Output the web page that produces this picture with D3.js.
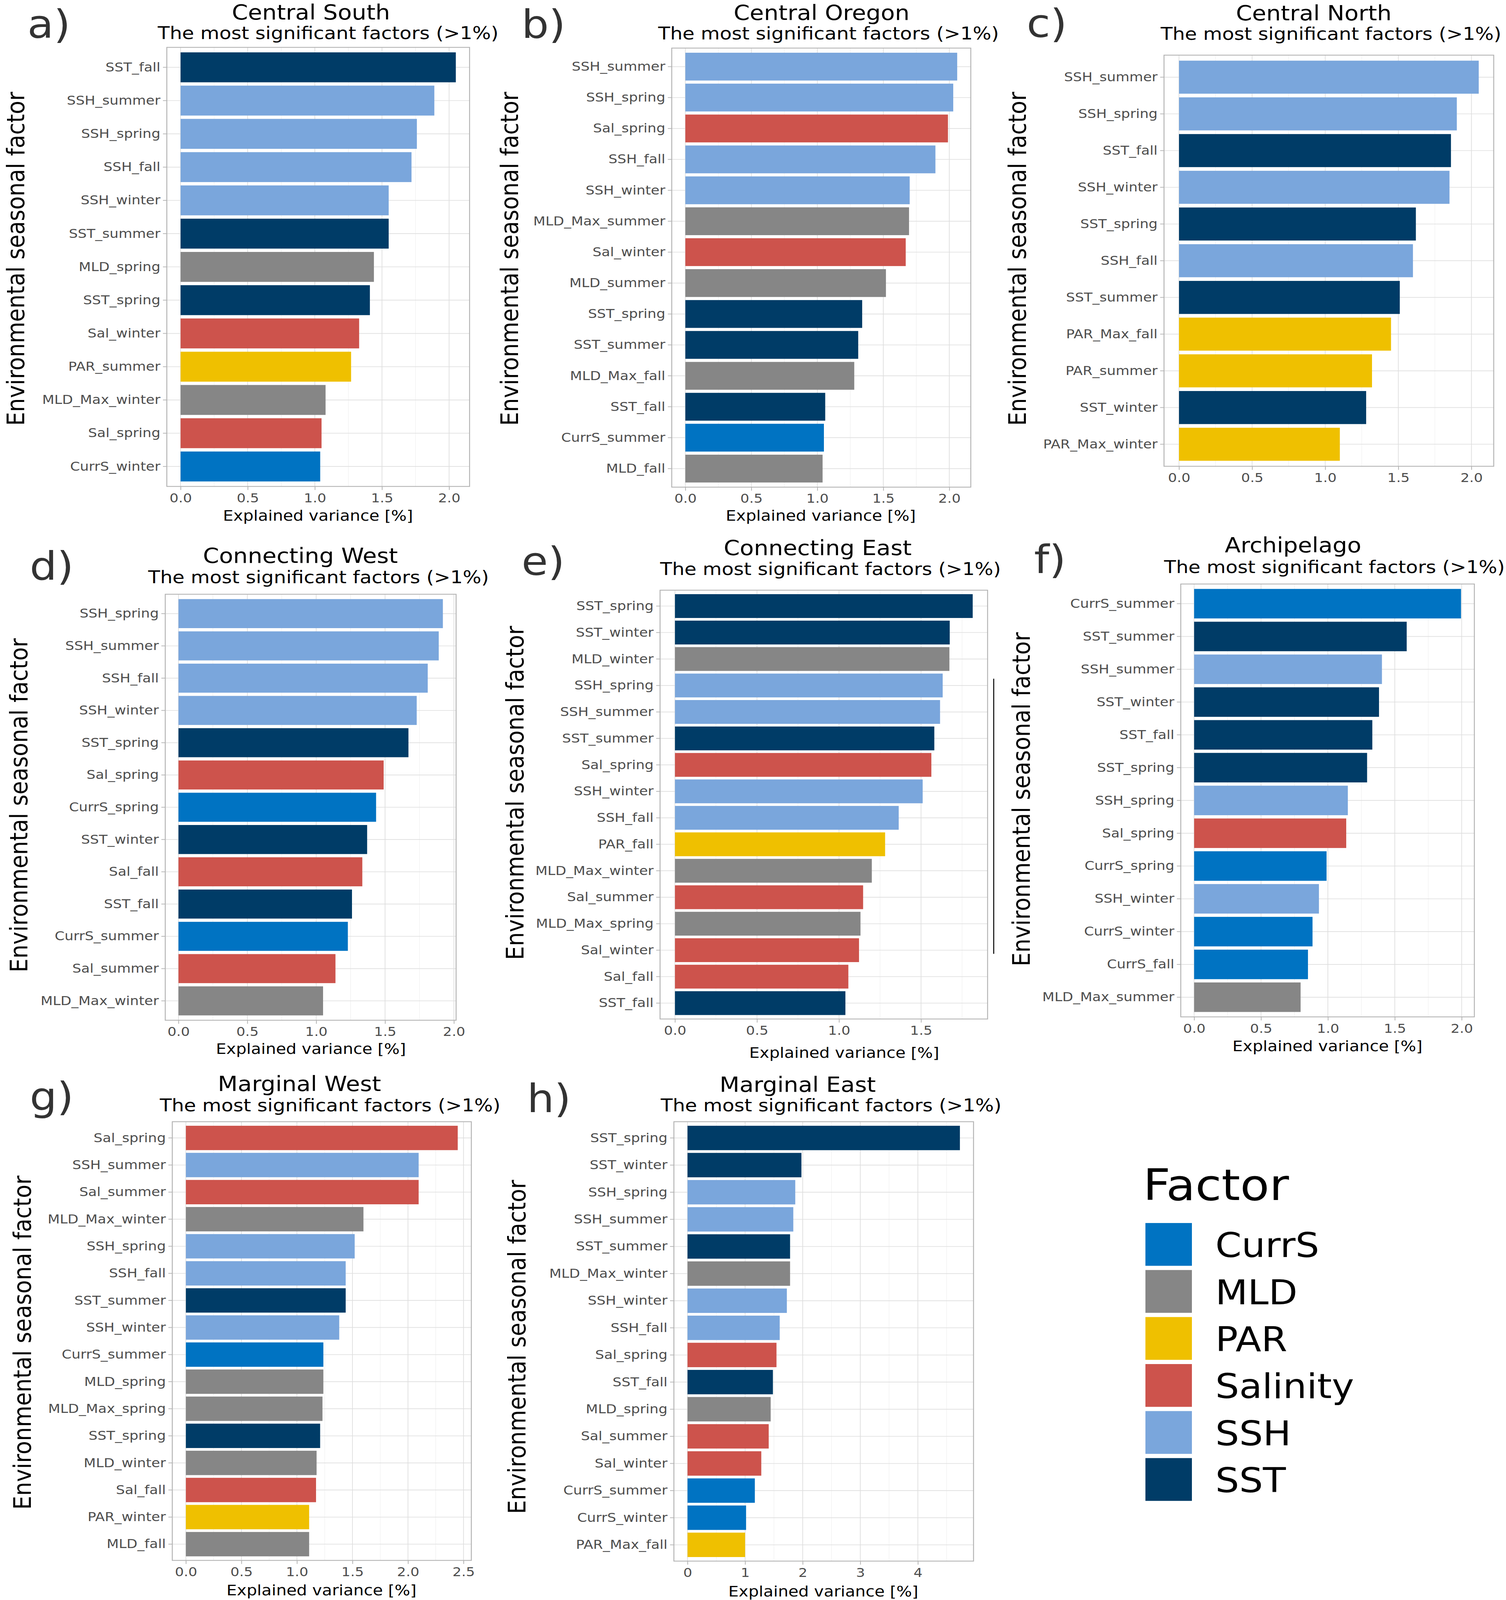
<!DOCTYPE html>
<html><head><meta charset="utf-8">
<script src="https://d3js.org/d3.v7.min.js"></script>
<style>
html, body { margin: 0; padding: 0; background: white; overflow: hidden; }
#chart { display: block; width: 100vw; height: 100vh; }
svg text { font-family: 'DejaVu Sans', sans-serif; }
</style>
</head>
<body>
<svg id="chart" viewBox="0 0 3855 4526" preserveAspectRatio="none"></svg>
<script>
// factor groups, jco palette
const factorGroups = ["CurrS", "MLD", "PAR", "Salinity", "SSH", "SST"];
const factorColors = ["#0073C2", "#868686", "#EFC000", "#CD534C", "#7AA6DC", "#003C67"];

const centralSouthLabels = ["SST_fall", "SSH_summer", "SSH_spring", "SSH_fall", "SSH_winter", "SST_summer", "MLD_spring", "SST_spring", "Sal_winter", "PAR_summer", "MLD_Max_winter", "Sal_spring", "CurrS_winter"];
const centralSouthValues = [2.05, 1.89, 1.76, 1.72, 1.55, 1.55, 1.44, 1.41, 1.33, 1.27, 1.08, 1.05, 1.04];

const centralOregonLabels = ["SSH_summer", "SSH_spring", "Sal_spring", "SSH_fall", "SSH_winter", "MLD_Max_summer", "Sal_winter", "MLD_summer", "SST_spring", "SST_summer", "MLD_Max_fall", "SST_fall", "CurrS_summer", "MLD_fall"];
const centralOregonValues = [2.06, 2.03, 1.99, 1.895, 1.70, 1.695, 1.67, 1.52, 1.34, 1.31, 1.28, 1.06, 1.05, 1.04];

const centralNorthLabels = ["SSH_summer", "SSH_spring", "SST_fall", "SSH_winter", "SST_spring", "SSH_fall", "SST_summer", "PAR_Max_fall", "PAR_summer", "SST_winter", "PAR_Max_winter"];
const centralNorthValues = [2.05, 1.90, 1.86, 1.85, 1.62, 1.60, 1.51, 1.45, 1.32, 1.28, 1.10];

const connWestLabels = ["SSH_spring", "SSH_summer", "SSH_fall", "SSH_winter", "SST_spring", "Sal_spring", "CurrS_spring", "SST_winter", "Sal_fall", "SST_fall", "CurrS_summer", "Sal_summer", "MLD_Max_winter"];
const connWestValues = [1.92, 1.89, 1.81, 1.73, 1.67, 1.49, 1.435, 1.37, 1.335, 1.26, 1.23, 1.14, 1.05];

const connEastLabels = ["SST_spring", "SST_winter", "MLD_winter", "SSH_spring", "SSH_summer", "SST_summer", "Sal_spring", "SSH_winter", "SSH_fall", "PAR_fall", "MLD_Max_winter", "Sal_summer", "MLD_Max_spring", "Sal_winter", "Sal_fall", "SST_fall"];
const connEastValues = [1.815, 1.675, 1.673, 1.632, 1.616, 1.581, 1.563, 1.51, 1.364, 1.281, 1.20, 1.147, 1.131, 1.122, 1.057, 1.039];

const archipelagoLabels = ["CurrS_summer", "SST_summer", "SSH_summer", "SST_winter", "SST_fall", "SST_spring", "SSH_spring", "Sal_spring", "CurrS_spring", "SSH_winter", "CurrS_winter", "CurrS_fall", "MLD_Max_summer"];
const archipelagoValues = [1.995, 1.589, 1.404, 1.382, 1.332, 1.293, 1.149, 1.137, 0.990, 0.933, 0.885, 0.851, 0.796];

const margWestLabels = ["Sal_spring", "SSH_summer", "Sal_summer", "MLD_Max_winter", "SSH_spring", "SSH_fall", "SST_summer", "SSH_winter", "CurrS_summer", "MLD_spring", "MLD_Max_spring", "SST_spring", "MLD_winter", "Sal_fall", "PAR_winter", "MLD_fall"];
const margWestValues = [2.448, 2.096, 2.096, 1.599, 1.520, 1.439, 1.439, 1.381, 1.238, 1.238, 1.230, 1.209, 1.177, 1.172, 1.110, 1.110];

const margEastLabels = ["SST_spring", "SST_winter", "SSH_spring", "SSH_summer", "SST_summer", "MLD_Max_winter", "SSH_winter", "SSH_fall", "Sal_spring", "SST_fall", "MLD_spring", "Sal_summer", "Sal_winter", "CurrS_summer", "CurrS_winter", "PAR_Max_fall"];
const margEastValues = [4.73, 1.978, 1.871, 1.837, 1.781, 1.781, 1.725, 1.601, 1.545, 1.483, 1.444, 1.410, 1.281, 1.169, 1.017, 1.000];

const ticksTwo = [0, 0.5, 1, 1.5, 2];
const ticksOneHalf = [0, 0.5, 1, 1.5];
const ticksTwoHalf = [0, 0.5, 1, 1.5, 2, 2.5];
const ticksFour = [0, 1, 2, 3, 4];

const subtitle = "The most significant factors (>1%)";

// layout of each panel (pixel positions)
const panels = [
  {tag: "a)", title: "Central South", labels: centralSouthLabels, values: centralSouthValues, ticks: ticksTwo, fmt: ".1f",
   box: [427, 134, 1202, 1376], tagPos: [70, 107], titlePos: [796, 55], subPos: [840, 111], yTitle: [62, 732], xTitle: [814, 1473]},
  {tag: "b)", title: "Central Oregon", labels: centralOregonLabels, values: centralOregonValues, ticks: ticksTwo, fmt: ".1f",
   box: [1719.5, 136, 2485, 1378], tagPos: [1335, 107], titlePos: [2103, 56], subPos: [2121, 112], yTitle: [1326, 732], xTitle: [2101, 1473]},
  {tag: "c)", title: "Central North", labels: centralNorthLabels, values: centralNorthValues, ticks: ticksTwo, fmt: ".1f",
   box: [2979.6, 156, 3823.6, 1319], tagPos: [2628, 105], titlePos: [3363, 57], subPos: [3407, 113], yTitle: [2626, 732], xTitle: null},
  {tag: "d)", title: "Connecting West", labels: connWestLabels, values: connWestValues, ticks: ticksTwo, fmt: ".1f",
   box: [423, 1681, 1167.5, 2886], tagPos: [76, 1640], titlePos: [769, 1592], subPos: [815.5, 1650], yTitle: [70, 2278], xTitle: [796, 2981]},
  {tag: "e)", title: "Connecting East", labels: connEastLabels, values: connEastValues, ticks: ticksOneHalf, fmt: ".1f",
   box: [1689.6, 1669.5, 2528, 2882.5], tagPos: [1335, 1627], titlePos: [2093, 1570], subPos: [2126, 1626], yTitle: [1340, 2243], xTitle: [2161, 2992],
   sideLine: [2543.7, 1920, 2698]},
  {tag: "f)", title: "Archipelago", labels: archipelagoLabels, values: archipelagoValues, ticks: ticksTwo, fmt: ".1f",
   box: [3022.5, 1652, 3774, 2876.5], tagPos: [2647, 1621], titlePos: [3310, 1563], subPos: [3416, 1621], yTitle: [2636, 2261], xTitle: [3398, 2973]},
  {tag: "g)", title: "Marginal West", labels: margWestLabels, values: margWestValues, ticks: ticksTwoHalf, fmt: ".1f",
   box: [441, 3173, 1206.5, 4414], tagPos: [76, 3140], titlePos: [766.5, 3086], subPos: [845, 3144], yTitle: [79, 3798], xTitle: [823, 4513]},
  {tag: "h)", title: "Marginal East", labels: margEastLabels, values: margEastValues, ticks: ticksFour, fmt: "d",
   box: [1725, 3173, 2492, 4416], tagPos: [1349, 3146], titlePos: [2042, 3088], subPos: [2127.5, 3144], yTitle: [1345, 3810], xTitle: [2107.5, 4516]}
];

const svg = d3.select("#chart");
svg.append("rect").attr("width", 3855).attr("height", 4526).attr("fill", "white");

const color = d3.scaleOrdinal(factorGroups, factorColors);
const groupOf = name => {
  const g = name.split("_")[0];
  return g === "Sal" ? "Salinity" : g;
};

panels.forEach(p => {
  const [x0, y0, x1, y1] = p.box;
  const maxV = d3.max(p.values);
  const x = d3.scaleLinear().domain([-0.05 * maxV, 1.05 * maxV]).range([x0, x1]);
  const y = d3.scaleBand().domain(p.labels).range([y0, y1]).paddingInner(0.1).paddingOuter(0.15);
  const rows = p.labels.map((l, i) => ({label: l, value: p.values[i]}));
  const g = svg.append("g");

  // minor grid between major ticks
  const half = (p.ticks[1] - p.ticks[0]) / 2;
  const minors = d3.range(p.ticks[0] - half, p.ticks[p.ticks.length - 1] + 2 * half, 2 * half)
    .filter(v => v > x.domain()[0] && v < x.domain()[1]);
  g.selectAll(".minor").data(minors).join("line")
    .attr("x1", d => x(d)).attr("x2", d => x(d)).attr("y1", y0).attr("y2", y1)
    .attr("stroke", "#EBEBEB").attr("stroke-width", 1);
  g.selectAll(".majorx").data(p.ticks).join("line")
    .attr("x1", d => x(d)).attr("x2", d => x(d)).attr("y1", y0).attr("y2", y1)
    .attr("stroke", "#DEDEDE").attr("stroke-width", 1.8);
  g.selectAll(".majory").data(p.labels).join("line")
    .attr("x1", x0).attr("x2", x1)
    .attr("y1", d => y(d) + y.bandwidth() / 2).attr("y2", d => y(d) + y.bandwidth() / 2)
    .attr("stroke", "#DEDEDE").attr("stroke-width", 1.8);

  g.selectAll(".bar").data(rows).join("rect")
    .attr("x", x(0))
    .attr("y", d => y(d.label))
    .attr("width", d => x(d.value) - x(0))
    .attr("height", y.bandwidth())
    .attr("fill", d => color(groupOf(d.label)));

  g.append("rect")
    .attr("x", x0).attr("y", y0).attr("width", x1 - x0).attr("height", y1 - y0)
    .attr("fill", "none").attr("stroke", "#B3B3B3").attr("stroke-width", 2.4);

  // axes
  const yAxis = g.append("g").attr("transform", `translate(${x0},0)`)
    .call(d3.axisLeft(y).tickSize(10).tickPadding(6.5));
  const xAxis = g.append("g").attr("transform", `translate(0,${y1})`)
    .call(d3.axisBottom(x).tickValues(p.ticks).tickFormat(d3.format(p.fmt)).tickSize(10).tickPadding(9));
  [yAxis, xAxis].forEach(a => {
    a.select(".domain").remove();
    a.selectAll(".tick line").attr("stroke", "#B3B3B3").attr("stroke-width", 2);
    a.selectAll(".tick text").attr("fill", "#4D4D4D").style("font-size", "36px")
      .style("font-family", "'DejaVu Sans', sans-serif");
  });

  // texts
  g.append("text").attr("x", p.tagPos[0]).attr("y", p.tagPos[1])
    .attr("fill", "#333333").style("font-size", "110px").text(p.tag);
  g.append("text").attr("x", p.titlePos[0]).attr("y", p.titlePos[1]).attr("text-anchor", "middle")
    .attr("fill", "#000").style("font-size", "59px").text(p.title);
  g.append("text").attr("x", p.subPos[0]).attr("y", p.subPos[1]).attr("text-anchor", "middle")
    .attr("fill", "#000").style("font-size", "50px").text(subtitle);
  g.append("text").attr("transform", `translate(${p.yTitle[0]},${p.yTitle[1]}) rotate(-90)`)
    .attr("text-anchor", "middle").attr("fill", "#000").style("font-size", "62px")
    .text("Environmental seasonal factor");
  if (p.xTitle) {
    g.append("text").attr("x", p.xTitle[0]).attr("y", p.xTitle[1]).attr("text-anchor", "middle")
      .attr("fill", "#000").style("font-size", "42px").text("Explained variance [%]");
  }
  if (p.sideLine) {
    g.append("line").attr("x1", p.sideLine[0]).attr("x2", p.sideLine[0])
      .attr("y1", p.sideLine[1]).attr("y2", p.sideLine[2])
      .attr("stroke", "#000").attr("stroke-width", 2.5);
  }
});

// legend
const legend = svg.append("g");
const keyY = d3.scaleBand().domain(factorGroups).range([3459.6, 3459.6 + 131 * factorGroups.length]).paddingInner(0.09).paddingOuter(0);
legend.append("text").attr("x", 2926).attr("y", 3395).attr("fill", "#000")
  .style("font-size", "122px").text("Factor");
legend.selectAll(".key").data(factorGroups).join("rect")
  .attr("x", 2932).attr("y", d => keyY(d))
  .attr("width", 119).attr("height", keyY.bandwidth())
  .attr("fill", d => color(d));
legend.selectAll(".lab").data(factorGroups).join("text")
  .attr("x", 3111).attr("y", d => keyY(d) + keyY.bandwidth() / 2 + 36)
  .attr("fill", "#000").style("font-size", "96px").text(d => d);
</script>
</body></html>
